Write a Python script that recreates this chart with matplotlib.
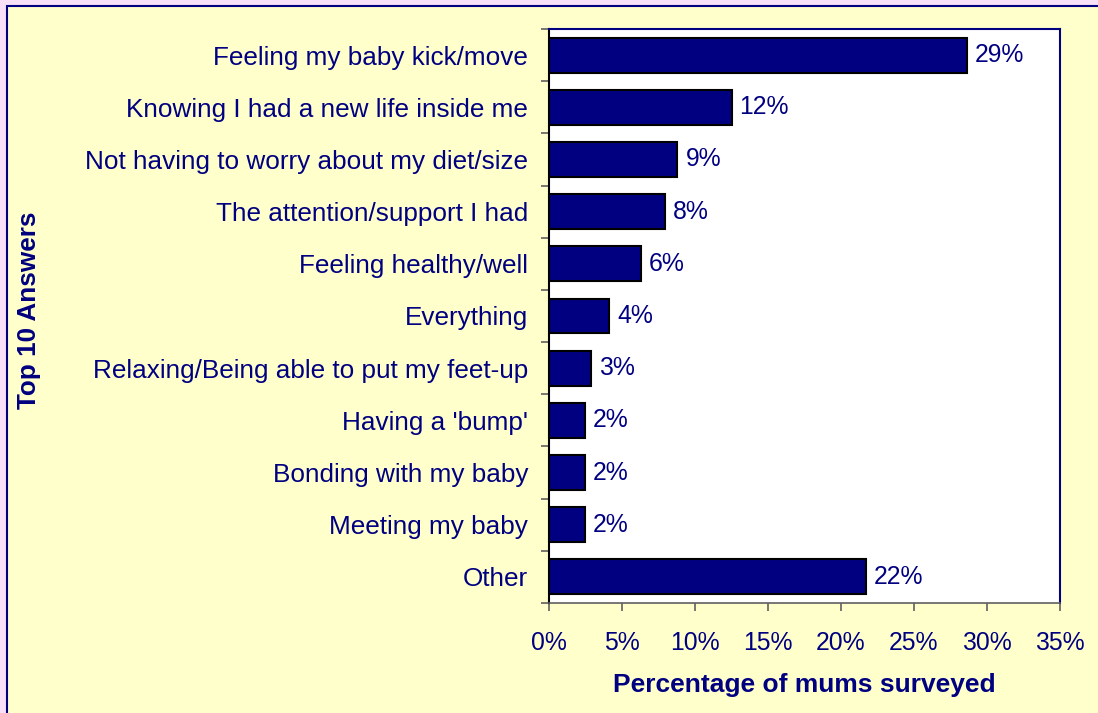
import matplotlib.pyplot as plt
from matplotlib.patches import Rectangle
from matplotlib.ticker import FixedLocator, FuncFormatter

categories = ["Feeling my baby kick/move", "Knowing I had a new life inside me",
              "Not having to worry about my diet/size", "The attention/support I had",
              "Feeling healthy/well", "Everything", "Relaxing/Being able to put my feet-up",
              "Having a 'bump'", "Bonding with my baby", "Meeting my baby", "Other"]
values = [28.6, 12.5, 8.8, 7.95, 6.3, 4.1, 2.9, 2.45, 2.45, 2.45, 21.7]
labels = ["29%", "12%", "9%", "8%", "6%", "4%", "3%", "2%", "2%", "2%", "22%"]
xticks = [0, 5, 10, 15, 20, 25, 30, 35]

navy = "#000080"
plt.rcParams['font.family'] = ['Liberation Sans', 'DejaVu Sans']

fig = plt.figure(figsize=(10.98, 7.13), dpi=100, facecolor="#F8E0F8")
W, H = 1098, 713
fig.patches.append(Rectangle((7 / W, -0.1), 1.2, (713 - 6) / H + 0.1, transform=fig.transFigure,
                             facecolor="#FFFFCC", edgecolor=navy, linewidth=1.5, zorder=-5))

ax = fig.add_axes([549 / W, 1 - 603 / H, (1060 - 549) / W, (603 - 29) / H])
ax.set_facecolor("white")
pos = list(range(len(categories)))
ax.barh(pos, values, height=0.67, color=navy, edgecolor="black", linewidth=1.5)
for p, v, lab in zip(pos, values, labels):
    ax.text(v + 0.55, p, lab, va="center", ha="left", fontsize=17.8, color=navy)

ax.set_xlim(0, 35)
ax.set_ylim(len(categories) - 0.5, -0.5)
ax.set_xticks(xticks)
ax.xaxis.set_major_formatter(FuncFormatter(lambda x, _: f"{x:.0f}%"))
ax.yaxis.set_major_locator(FixedLocator(pos))
ax.set_yticklabels(categories)
ax.yaxis.set_minor_locator(FixedLocator([p - 0.5 for p in pos] + [len(pos) - 0.5]))
ax.tick_params(axis="y", which="major", length=0, pad=15, labelsize=18.8, labelcolor=navy)
ax.tick_params(axis="y", which="minor", length=6, color="#606060", width=1.2)
ax.tick_params(axis="x", length=6, color="#606060", width=1.2, pad=14, labelsize=17.8, labelcolor=navy)

for side in ("top", "right"):
    ax.spines[side].set_color(navy)
    ax.spines[side].set_linewidth(1.5)
ax.spines["left"].set_color("black")
ax.spines["left"].set_linewidth(1.5)
ax.spines["bottom"].set_color("#606060")
ax.spines["bottom"].set_linewidth(1.2)

ax.set_xlabel("Percentage of mums surveyed", fontsize=19, fontweight="bold", color=navy, labelpad=13)
fig.text(29 / W, 1 - 310 / H, "Top 10 Answers", rotation=90, ha="center", va="center",
         fontsize=18.8, fontweight="bold", color=navy)

fig.savefig("out.png", dpi=100, facecolor=fig.get_facecolor())
